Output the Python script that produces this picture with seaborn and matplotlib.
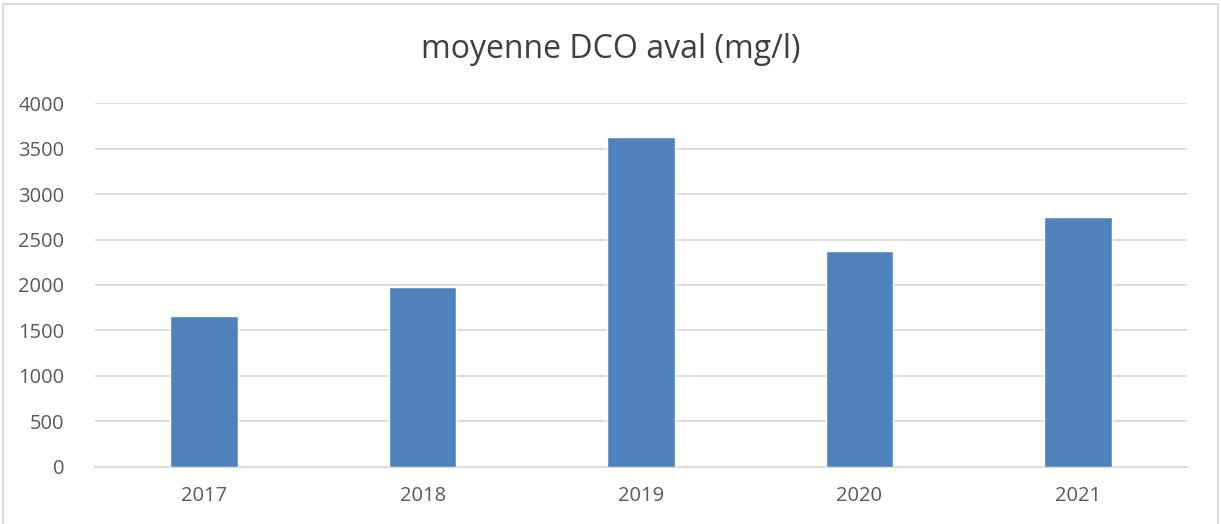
import matplotlib
matplotlib.use("Agg")
import matplotlib.pyplot as plt
import pandas as pd
import seaborn as sns
from matplotlib.patches import Rectangle

years = ["2017", "2018", "2019", "2020", "2021"]
dco_aval = [1655, 1975, 3625, 2370, 2745]
yticks = [0, 500, 1000, 1500, 2000, 2500, 3000, 3500, 4000]
title = "moyenne DCO aval (mg/l)"

df = pd.DataFrame({"annee": years, "dco": dco_aval})

sns.set_theme(style="white")
plt.rcParams["font.family"] = ["Open Sans", "DejaVu Sans"]

fig = plt.figure(figsize=(12.21, 5.24), dpi=100)
ax = fig.add_axes([95 / 1221, 57.3 / 524, 1092 / 1221, 363.4 / 524])

sns.barplot(data=df, x="annee", y="dco", color="#4F81BD", saturation=1,
            width=0.31, ax=ax, zorder=3)

ax.set_ylim(0, 4000)
ax.set_xlim(-0.5, len(years) - 0.5)
ax.set_yticks(yticks)
ax.set_yticklabels([str(v) for v in yticks])
ax.grid(axis="y", color="#d9d9d9", linewidth=1.3, zorder=0)
ax.set_axisbelow(True)
for side in ["top", "right", "left"]:
    ax.spines[side].set_visible(False)
ax.spines["bottom"].set_color("#d9d9d9")
ax.spines["bottom"].set_linewidth(1.3)
ax.tick_params(axis="both", length=0, labelsize=14.5, colors="#595959")
ax.tick_params(axis="y", pad=22)
ax.tick_params(axis="x", pad=14)
ax.set_xlabel("")
ax.set_ylabel("")

fig.text(0.5, 1 - 49 / 524, title, ha="center", va="center",
         fontsize=23, color="#404040")

# outer chart frame
fig.patches.append(Rectangle((3 / 1221, -0.01), 1215 / 1221, 1 - 4 / 524 + 0.01,
                             transform=fig.transFigure, fill=False,
                             edgecolor="#d9d9d9", linewidth=1.3))

fig.savefig("out.png", dpi=100)
